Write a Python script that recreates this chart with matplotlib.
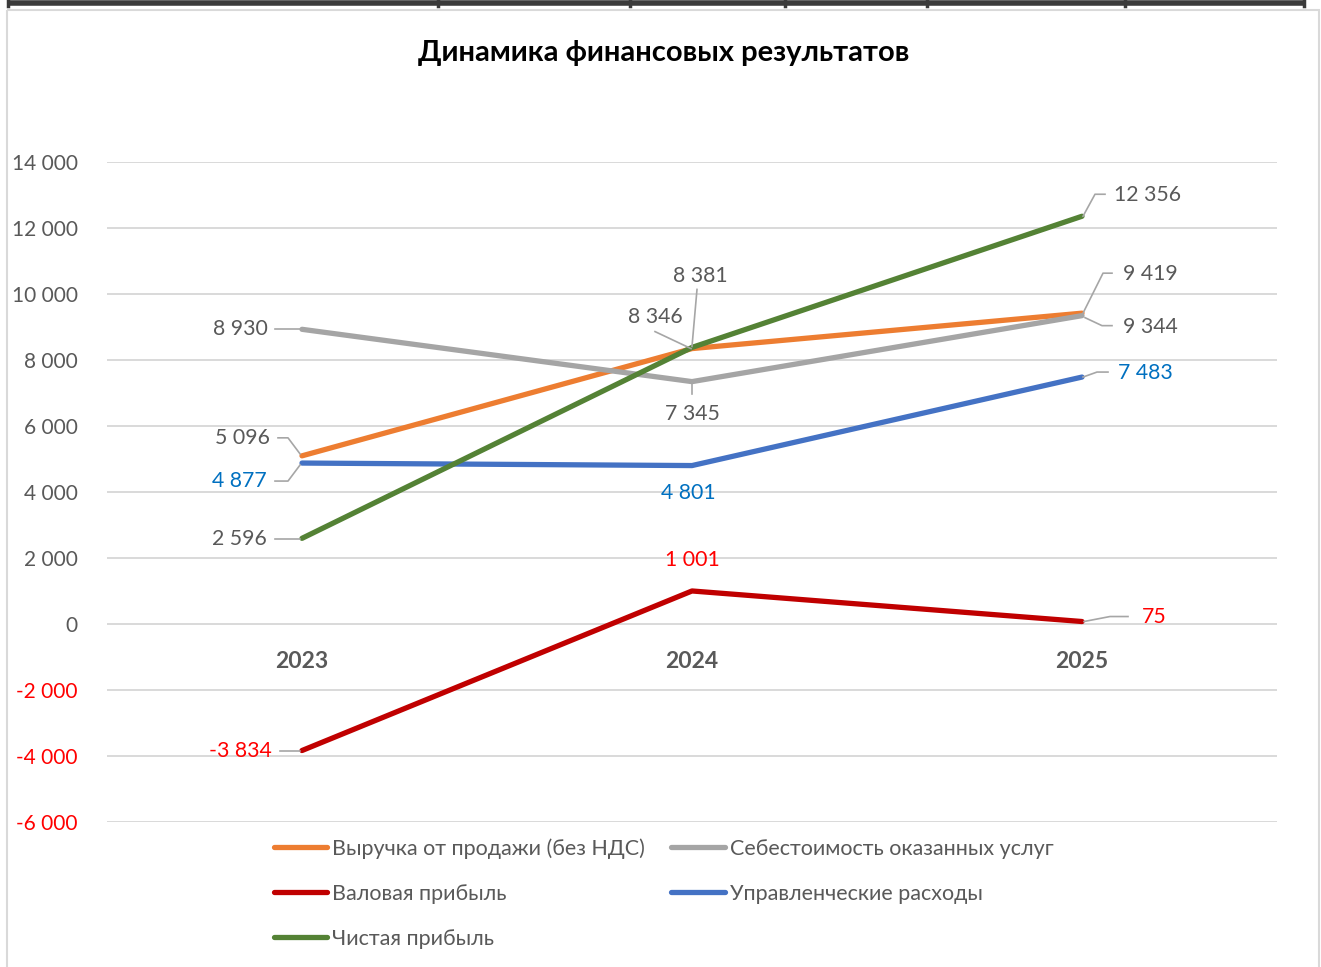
import matplotlib
matplotlib.use('Agg')
import matplotlib.pyplot as plt
from matplotlib.lines import Line2D
from matplotlib.patches import Rectangle
from matplotlib.transforms import IdentityTransform

plt.rcParams['font.family'] = ['Lato', 'DejaVu Sans']

# ---------------- data ----------------
years = ['2023', '2024', '2025']
names = ['Выручка от продажи (без НДС)', 'Себестоимость оказанных услуг',
         'Валовая прибыль', 'Управленческие расходы', 'Чистая прибыль']
revenue = [5096, 8346, 9419]
cost = [8930, 7345, 9344]
gross = [-3834, 1001, 75]
admin = [4877, 4801, 7483]
net = [2596, 8381, 12356]
y_ticks = [-6000, -4000, -2000, 0, 2000, 4000, 6000, 8000, 10000, 12000, 14000]
title = 'Динамика финансовых результатов'

# ---------------- style ----------------
line_colors = ['#ED7D31', '#A5A5A5', '#C00000', '#4472C4', '#548235']
label_colors = ['#595959', '#595959', '#FF0000', '#0070C0', '#595959']
series = [revenue, cost, gross, admin, net]

# label offsets (image pixels, y down): (dx, dy, ha) per series per point
label_pos = [
    [(-32, -18, 'right'), (-37, -32, 'center'), (41, -39, 'left')],
    [(-34, 0, 'right'), (0, 32, 'center'), (41, 11, 'left')],
    [(-30, 0, 'right'), (0, -31, 'center'), (60, -5, 'left')],
    [(-35, 18, 'right'), (-4, 27, 'center'), (36, -4, 'left')],
    [(-35, 1, 'right'), (8, -71, 'center'), (32, -21, 'left')],
]
leaders = [
    [[(-24, -18), (-14, -18), (-2, -2)], [(-37, -17), (-1, 0)], [(1, 0), (21, -40), (30, -40)]],
    [[(-27, 0), (-2, 0)], [(0, 2), (0, 12)], [(3, 2), (20, 10), (30, 10)]],
    [[(-22, 0), (-2, 0)], None, [(2, 0), (28, -5), (46, -5)]],
    [[(-27, 18), (-14, 18), (-2, 2)], None, [(1, 0), (15, -5), (26, -5)]],
    [[(-27, 1), (-2, 1)], [(5, -58), (0, -1)], [(1, 0), (13, -22), (23, -22)]],
]

W, H = 1321, 967
fig = plt.figure(figsize=(W / 100, H / 100), dpi=100)

# background overlay for frame/table fragment
bg = fig.add_axes([0, 0, 1, 1])
bg.set_xlim(0, W)
bg.set_ylim(H, 0)
bg.axis('off')
bg.add_patch(Rectangle((7, 10), 1312, 980, fill=False, edgecolor='#d9d9d9', lw=1.5))
bg.plot([7, 1305], [3, 3], color='#3a3a3a', lw=4, solid_capstyle='butt')
for xv in [8, 438, 630, 785, 927, 1125, 1304]:
    bg.plot([xv, xv], [0, 6], color='#3a3a3a', lw=2.5)

ax = fig.add_axes([107 / W, 1 - 822 / H, 1170 / W, 660 / H])
ax.set_xlim(0, 3)
ax.set_ylim(-6000, 14000)
ax.set_yticks(y_ticks)
ax.set_yticklabels([f"{v:,}".replace(',', ' ') for v in y_ticks])
for lab, v in zip(ax.get_yticklabels(), y_ticks):
    lab.set_color('#FF0000' if v < 0 else '#595959')
    lab.set_fontsize(15)
ax.tick_params(axis='y', length=0, pad=21)
ax.set_xticks([])
for s in ax.spines.values():
    s.set_visible(False)
ax.grid(axis='y', color='#d9d9d9', lw=1.4)
ax.set_axisbelow(True)
ax.patch.set_alpha(0)

xs = [i + 0.5 for i in range(len(years))]
handles = []
for vals, c, nm in zip(series, line_colors, names):
    ln, = ax.plot(xs, vals, color=c, lw=3.8, solid_capstyle='round', zorder=3, label=nm)
    handles.append(ln)

# year labels at zero line
for x, yr in zip(xs, years):
    ax.annotate(yr, xy=(x, 0), xytext=(0, -37), textcoords='offset pixels',
                ha='center', va='center', fontsize=16.5, fontweight='bold', color='#595959')

fig.canvas.draw()
for si, vals in enumerate(series):
    for pi, v in enumerate(vals):
        dx, dy, ha = label_pos[si][pi]
        ax.annotate(f"{v:,}".replace(',', ' '), xy=(xs[pi], v), xytext=(dx, -dy),
                    textcoords='offset pixels', ha=ha, va='center',
                    fontsize=15.3, color=label_colors[si], zorder=5)
        ld = leaders[si][pi]
        if ld:
            px, py = ax.transData.transform((xs[pi], v))
            vx = [px + a for a, b in ld]
            vy = [py - b for a, b in ld]
            fig.add_artist(Line2D(vx, vy, transform=IdentityTransform(),
                                  color='#a6a6a6', lw=1.2, zorder=4))

fig.text(664 / W, 1 - 53 / H, title, ha='center', va='center',
         fontsize=21, fontweight='bold', color='black')

order = [0, 2, 4, 1, 3]
leg = fig.legend([handles[i] for i in order], [names[i] for i in order],
                 ncol=2, loc='upper left', bbox_to_anchor=(274 / W, 1 - 838 / H),
                 frameon=False, fontsize=15.5, handlelength=2.47, handletextpad=0.24,
                 columnspacing=1.22, labelspacing=1.17, borderpad=0, borderaxespad=0)
for t in leg.get_texts():
    t.set_color('#595959')

fig.savefig('out.png', dpi=100)
